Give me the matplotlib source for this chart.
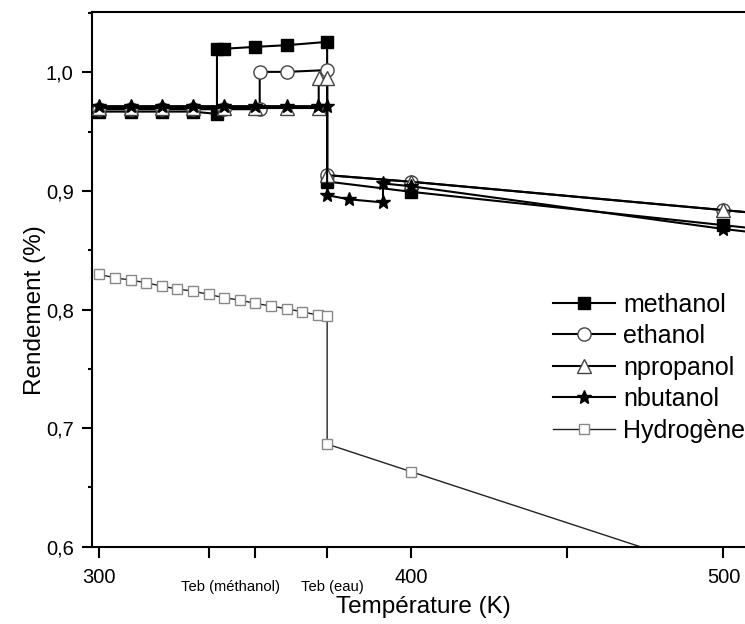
import matplotlib
matplotlib.use("Agg")
import matplotlib.pyplot as plt
from matplotlib.ticker import FixedLocator, NullFormatter
import matplotlib.transforms as mtransforms

plt.rcParams['font.family'] = ['Liberation Sans', 'DejaVu Sans']

# ---------------- data ----------------
methanol_T = [300, 310, 320, 330, 337.7, 337.7, 340, 350, 360, 373, 373, 400, 500, 550]
methanol_Y = [0.967, 0.967, 0.967, 0.967, 0.965, 1.020, 1.020, 1.0216, 1.023, 1.0258,
              0.908, 0.8993, 0.8712, 0.857]

ethanol_T = [300, 310, 320, 330, 340, 351.4, 351.4, 360, 373, 373, 400, 500, 550]
ethanol_Y = [0.969, 0.969, 0.969, 0.969, 0.969, 0.969, 1.0005, 1.0005, 1.002,
             0.9134, 0.9078, 0.8839, 0.872]

npropanol_T = [300, 310, 320, 330, 340, 350, 360, 370.3, 370.3, 373, 373, 400, 500, 550]
npropanol_Y = [0.970, 0.970, 0.970, 0.970, 0.970, 0.970, 0.970, 0.970, 0.995, 0.995,
               0.9134, 0.9078, 0.8839, 0.872]

nbutanol_T = [300, 310, 320, 330, 340, 350, 360, 370, 373, 373, 380, 390.9, 390.9, 400, 500, 550]
nbutanol_Y = [0.9716, 0.9716, 0.9716, 0.9716, 0.9716, 0.9716, 0.9716, 0.9716, 0.9716,
              0.8965, 0.893, 0.8904, 0.9064, 0.904, 0.868, 0.853]

hydrogene_T = [300, 305, 310, 315, 320, 325, 330, 335, 340, 345, 350, 355, 360, 365, 370,
               373, 373, 400, 500]
hydrogene_Y = [0.8297, 0.8268, 0.8249, 0.8226, 0.8198, 0.8173, 0.8156, 0.8128, 0.8100,
               0.8080, 0.8052, 0.8030, 0.8007, 0.7981, 0.7954, 0.7945, 0.6866, 0.6632, 0.577]

series_labels = ["methanol", "ethanol", "npropanol", "nbutanol", "Hydrogène"]

x_ticks = [300, 335, 350, 373, 400, 450, 500]
x_ticklabels = ["300", "", "", "", "400", "", "500"]
teb_labels = ["Teb (méthanol)", "Teb (eau)"]
teb_label_pos = [342.0, 374.8]
y_ticks = [0.6, 0.7, 0.8, 0.9, 1.0]
y_ticklabels = ["0,6", "0,7", "0,8", "0,9", "1,0"]
y_minor = [0.65, 0.75, 0.85, 0.95, 1.05]

# ---------------- figure ----------------
fig = plt.figure(figsize=(7.45, 6.24), dpi=100)
ax = fig.add_axes([91.7 / 745, 1 - 546.7 / 624, 1 - 91.7 / 745, (546.7 - 12) / 624])

lw = 1.5
ax.plot(methanol_T, methanol_Y, color='black', lw=lw, marker='s', ms=8,
        mfc='black', mec='black', label=series_labels[0], zorder=3)
ax.plot(ethanol_T, ethanol_Y, color='black', lw=lw, marker='o', ms=9.5,
        mfc='white', mec='#444444', mew=1.0, label=series_labels[1], zorder=4)
ax.plot(npropanol_T, npropanol_Y, color='black', lw=lw, marker='^', ms=9.5,
        mfc='white', mec='#444444', mew=1.0, label=series_labels[2], zorder=5)
ax.plot(nbutanol_T, nbutanol_Y, color='black', lw=lw, marker='*', ms=10,
        mfc='black', mec='black', label=series_labels[3], zorder=6)
ax.plot(hydrogene_T, hydrogene_Y, color='#222222', lw=1.0, marker='s', ms=7,
        mfc='white', mec='#888888', mew=1.0, label=series_labels[4], zorder=2)

ax.set_xlim(297.56, 506.9)
ax.set_ylim(0.6, 1.051)

ax.spines['right'].set_visible(False)
for s in ['left', 'bottom', 'top']:
    ax.spines[s].set_linewidth(1.5)

ax.xaxis.set_major_locator(FixedLocator(x_ticks))
ax.set_xticklabels(x_ticklabels)
ax.yaxis.set_major_locator(FixedLocator(y_ticks))
ax.set_yticklabels(y_ticklabels)
ax.yaxis.set_minor_locator(FixedLocator(y_minor))
ax.yaxis.set_minor_formatter(NullFormatter())

ax.tick_params(axis='x', which='major', direction='out', length=8, width=1.5,
               labelsize=14.5, pad=7, top=False)
ax.tick_params(axis='y', which='major', direction='out', length=7, width=1.5,
               labelsize=14.5, pad=6, right=False)
ax.tick_params(axis='y', which='minor', direction='out', length=3, width=1.5, right=False)

trans = mtransforms.blended_transform_factory(ax.transData, ax.transAxes)
for lab, xp in zip(teb_labels, teb_label_pos):
    ax.text(xp, (546.7 - 587.5) / 534.7, lab, transform=trans, ha='center', va='center',
            fontsize=10.6, family=['Liberation Sans Narrow', 'Liberation Sans'])

ax.set_xlabel("Température (K)", fontsize=17.5, va='center')
ax.xaxis.set_label_coords((423.6 - 91.7) / 653.3, (546.7 - 607) / 534.7)
ax.set_ylabel("Rendement (%)", fontsize=17.5, va='center')
ax.yaxis.set_label_coords((35 - 91.7) / 653.3, (546.7 - 310) / 534.7)

leg = ax.legend(loc='upper left', bbox_to_anchor=(0.706, 0.475), frameon=False,
                fontsize=18, handlelength=2.5, handletextpad=0.3, labelspacing=0.3,
                numpoints=1, borderaxespad=0, borderpad=0)

fig.savefig("out.png", dpi=100)
